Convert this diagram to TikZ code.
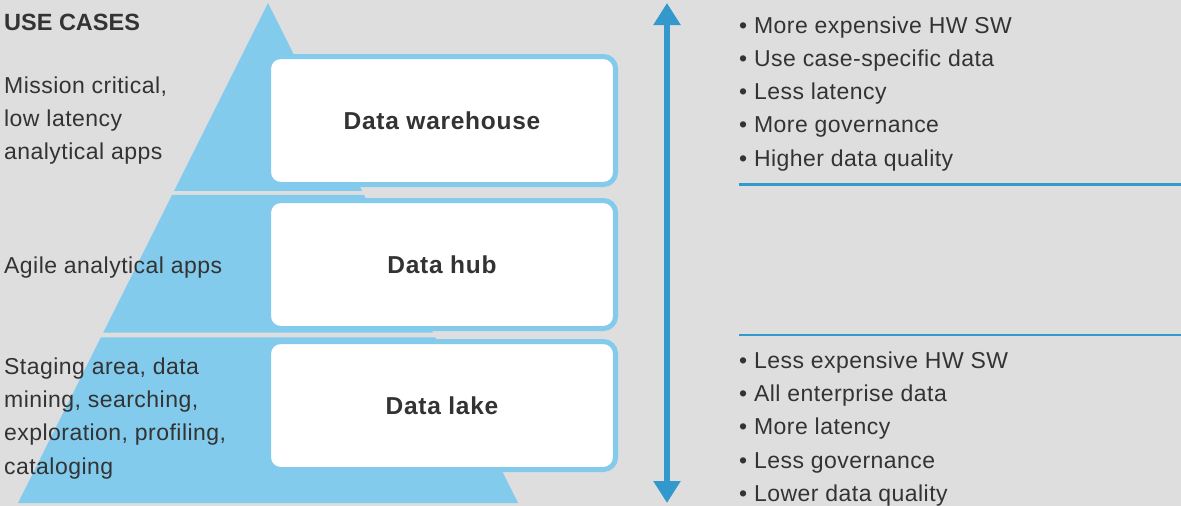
\documentclass[tikz,border=0pt]{standalone}
\usepackage{fontspec}
\setmainfont{Liberation Sans}[LetterSpace=2]
\usepackage{tikz}
\usetikzlibrary{arrows.meta, positioning, calc}

\definecolor{bggray}{HTML}{DEDEDE}
\definecolor{pyrblue}{HTML}{82CBEC}
\definecolor{scaleblue}{HTML}{3399CC}
\definecolor{textgray}{HTML}{333333}

\begin{document}
\begin{tikzpicture}[
  x=1pt, y=-1pt,
  every node/.style={text=textgray},
  pyramid/.style={fill=pyrblue},
  layer/.style={draw=pyrblue, line width=5pt, fill=white, rounded corners=12pt, minimum width=347pt, minimum height=128pt, outer sep=0pt, inner sep=0pt, font=\bfseries\fontsize{24.5}{28}\selectfont\addfontfeature{LetterSpace=3}},
  usecase/.style={anchor=north west, inner sep=0pt, align=left, font=\fontsize{23}{33.3}\selectfont},
  bullets/.style={anchor=north west, inner sep=0pt, align=left, font=\fontsize{23}{33.3}\selectfont},
  scalearrow/.style={{Triangle[width=26pt, length=22pt]}-{Triangle[width=26pt, length=22pt]}, line width=5.5pt, scaleblue},
  divider/.style={line width=2.5pt, scaleblue}
]

% Background
\fill[bggray] (0,0) rectangle (1181,506);
\useasboundingbox (0,0) rectangle (1181,506);

% Pyramid, cut into three bands
\coordinate (apex) at (268,3);
\coordinate (bl) at (18,503);
\coordinate (br) at (518,503);
\foreach \top/\bot in {3/191, 195/332.7, 337.3/503}{
  \fill[pyramid] ($(apex)!{(\top-3)/500}!(bl)$) -- ($(apex)!{(\bot-3)/500}!(bl)$)
    -- ($(apex)!{(\bot-3)/500}!(br)$) -- ($(apex)!{(\top-3)/500}!(br)$) -- cycle;
}

% Layers
\node[layer] (whouse) at (442,120.5) {Data warehouse};
\node[layer, below=16pt of whouse] (hub) {Data hub};
\node[layer, below=13pt of hub] (lake) {Data lake};

% Use cases
\node[usecase, font=\bfseries\fontsize{23.5}{28}\selectfont\addfontfeature{LetterSpace=0}] (title) at (4,14) {USE CASES};
\node[usecase] (critical) at (4,76.2) {Mission critical,\\low latency\\analytical apps};
\node[usecase] (agile) at (4,257.1) {Agile analytical apps};
\node[usecase] (staging) at (4,357.5) {Staging area, data\\mining, searching,\\exploration, profiling,\\cataloging};

% Scale
\coordinate (scaletop) at (667,3);
\coordinate (scalebot) at (667,503);
\draw[scalearrow] (scaletop) -- (scalebot);

% Properties
\node[bullets] (upper) at (739,16.2) {• More expensive HW SW\\• Use case-specific data\\• Less latency\\• More governance\\• Higher data quality};
\draw[divider] (739,184.5) -- (1181,184.5);
\draw[divider] (739,335) -- (1181,335);
\node[bullets] (lower) at (739,351.5) {• Less expensive HW SW\\• All enterprise data\\• More latency\\• Less governance\\• Lower data quality};

\end{tikzpicture}
\end{document}
